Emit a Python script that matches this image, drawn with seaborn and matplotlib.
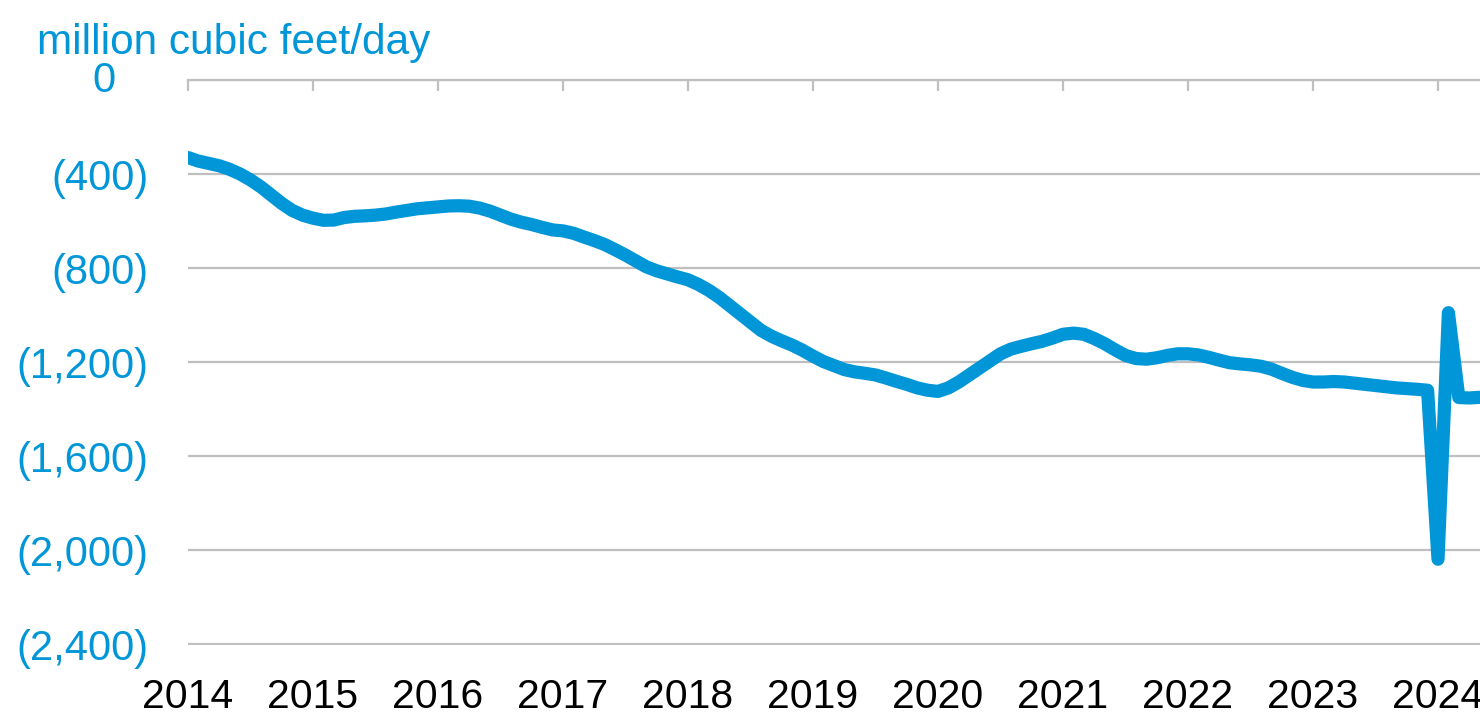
import numpy as np
import pandas as pd
import matplotlib
matplotlib.use("Agg")
import matplotlib.pyplot as plt
import matplotlib.transforms as mtransforms
import seaborn as sns
from matplotlib.ticker import FuncFormatter

# Monthly values, Jan 2014 - May 2024 (million cubic feet/day)
v2014 = [-330, -345, -355, -365, -380, -400, -425, -455, -490, -525, -555, -575]
v2015 = [-588, -597, -596, -585, -580, -578, -575, -570, -562, -555, -548, -544]
v2016 = [-540, -536, -535, -537, -545, -558, -575, -592, -605, -615, -627, -638]
v2017 = [-642, -652, -668, -683, -700, -722, -745, -770, -795, -812, -825, -838]
v2018 = [-850, -870, -895, -925, -960, -995, -1030, -1065, -1090, -1110, -1128, -1150]
v2019 = [-1175, -1198, -1215, -1232, -1242, -1248, -1255, -1268, -1282, -1295, -1310, -1320]
v2020 = [-1325, -1310, -1285, -1255, -1225, -1195, -1165, -1145, -1133, -1122, -1112, -1098]
v2021 = [-1082, -1077, -1082, -1100, -1122, -1148, -1172, -1185, -1188, -1182, -1172, -1165]
v2022 = [-1165, -1170, -1180, -1192, -1203, -1208, -1212, -1218, -1230, -1248, -1265, -1278]
v2023 = [-1285, -1285, -1283, -1285, -1290, -1295, -1300, -1305, -1310, -1313, -1316, -1320]
v2024 = [-2039, -990, -1351, -1353, -1350]

values = v2014 + v2015 + v2016 + v2017 + v2018 + v2019 + v2020 + v2021 + v2022 + v2023 + v2024
start_year = 2014
x_years = [start_year + i / 12 for i in range(len(values))]
year_ticks = list(range(2014, 2025))
y_ticks = [0, -400, -800, -1200, -1600, -2000, -2400]
unit_label = "million cubic feet/day"

df = pd.DataFrame({"year": x_years, "value": values})

BLUE = "#0096D7"
GRID = "#BFBFBF"

sns.set_style("white")
plt.rcParams["font.family"] = ["Liberation Sans", "DejaVu Sans"]

fig = plt.figure(figsize=(14.8, 7.13), dpi=100)
ax = fig.add_axes([188 / 1480, 1 - 645 / 713, 1 - 188 / 1480, (645 - 80) / 713])

sns.lineplot(data=df, x="year", y="value", ax=ax, color=BLUE, linewidth=9.5,
             solid_joinstyle="round", solid_capstyle="round")

ax.set_xlim(2014, 2024 + 42 / 125)
ax.set_ylim(-2404, 0)
ax.set_xticks(year_ticks)
ax.set_yticks(y_ticks)
ax.yaxis.set_major_formatter(FuncFormatter(
    lambda v, p: "0" if v == 0 else ("({:,.0f})".format(-v) if v < 0 else "{:,.0f}".format(v))))

for s in ["left", "right", "bottom"]:
    ax.spines[s].set_visible(False)
ax.spines["top"].set_visible(True)
ax.spines["top"].set_color(GRID)
ax.spines["top"].set_linewidth(1.6)

ax.grid(axis="y", color=GRID, linewidth=1.6)
ax.grid(axis="x", visible=False)
ax.set_axisbelow(True)

ax.tick_params(axis="x", top=True, bottom=False, labeltop=False, labelbottom=True,
               direction="in", length=8, width=1.6, color=GRID, labelsize=29.5,
               labelcolor="black", pad=24)
ax.tick_params(axis="y", left=False, labelsize=30, labelcolor=BLUE, pad=25)

ax.set_xlabel("")
ax.set_ylabel("")

# The zero label sits further left (Excel number-format padding)
fig.canvas.draw()
for lab in ax.get_yticklabels():
    if lab.get_text() == "0":
        lab.set_transform(lab.get_transform() +
                          mtransforms.ScaledTranslation(-33 / 100, 3 / 100, fig.dpi_scale_trans))

fig.text(37 / 1480, 1 - 43 / 713, unit_label, color=BLUE,
         fontsize=30.5, ha="left", va="center")

fig.savefig("out.png", dpi=100)
